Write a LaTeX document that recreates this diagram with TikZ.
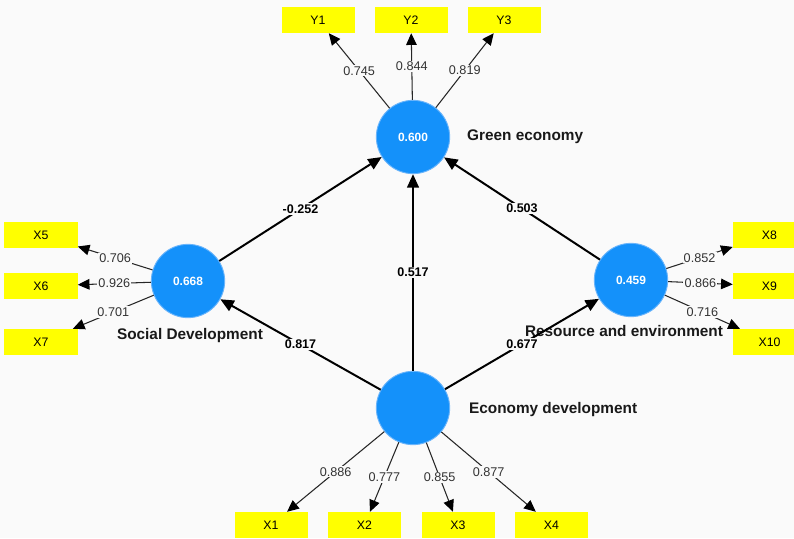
\documentclass[tikz,border=0pt]{standalone}
\usepackage{fontspec}
\setmainfont{Liberation Sans}
\usetikzlibrary{arrows.meta}
\definecolor{bgcol}{RGB}{250,250,250}
\definecolor{latentblue}{RGB}{20,145,250}
\definecolor{latentrim}{RGB}{105,180,250}
\definecolor{itemyellow}{RGB}{255,255,0}
\definecolor{loadgray}{RGB}{51,51,51}
\begin{document}
\begin{tikzpicture}[x=0.03cm,y=-0.03cm,
  latent/.style={circle,fill=latentblue,draw=latentrim,line width=0.8pt,
    minimum size=2.2cm,inner sep=0pt,text=white,
    font=\fontsize{10.2}{12}\selectfont\bfseries},
  item/.style={rectangle,fill=itemyellow,minimum width=2.19cm,
    minimum height=0.78cm,inner sep=0pt,font=\fontsize{10.5}{12}\selectfont},
  latentname/.style={font=\fontsize{13.1}{15}\selectfont\bfseries,text=black!90},
  structural/.style={line width=1.7pt,-{Triangle[length=11.5pt,width=10pt]}},
  loading/.style={draw=black!85,line width=0.9pt,
    -{Triangle[length=10pt,width=9pt,color=black]}},
  coef/.style={midway,fill=bgcol,inner sep=1pt,
    font=\fontsize{10.7}{12}\selectfont\bfseries},
  load/.style={midway,fill=bgcol,inner sep=1pt,text=loadgray,
    font=\fontsize{10.8}{12}\selectfont}]
  \useasboundingbox (0,0) rectangle (794,538);
  \clip (0,0) rectangle (794,538);
  \fill[bgcol] (0,0) rectangle (794,538);

  % latent variables
  \node[latent] (green) at (413,137) {0.600};
  \node[latent] (social) at (188,281) {0.668};
  \node[latent] (resource) at (631,280) {0.459};
  \node[latent] (economy) at (413,408) {};

  \node[latentname,anchor=west] (greenname) at (463,137) {Green economy};
  \node[latentname] (socialname) at (190,336) {Social Development};
  \node[latentname] (resourcename) at (624,331) {Resource and environment};
  \node[latentname,anchor=west] (economyname) at (465,410) {Economy development};

  % indicators
  \node[item] (y1) at (318,20) {Y1};
  \node[item] (y2) at (411,20) {Y2};
  \node[item] (y3) at (504,20) {Y3};
  \node[item] (x5) at (41,235) {X5};
  \node[item] (x6) at (41,286) {X6};
  \node[item] (x7) at (41,342) {X7};
  \node[item] (x8) at (769.5,235) {X8};
  \node[item] (x9) at (769.5,286) {X9};
  \node[item] (x10) at (769.5,342) {X10};
  \node[item] (x1) at (271,525) {X1};
  \node[item] (x2) at (364.5,525) {X2};
  \node[item] (x3) at (458,525) {X3};
  \node[item] (x4) at (551.5,525) {X4};

  % inner model
  \draw[structural] (social) -- node[coef] {-0.252} (green);
  \draw[structural] (resource) -- node[coef] {0.503} (green);
  \draw[structural] (economy) -- node[coef] {0.517} (green);
  \draw[structural] (economy) -- node[coef] {0.817} (social);
  \draw[structural] (economy) -- node[coef] {0.677} (resource);

  % outer model
  \draw[loading] (green) -- node[load] {0.745} (y1);
  \draw[loading] (green) -- node[load] {0.844} (y2);
  \draw[loading] (green) -- node[load] {0.819} (y3);
  \draw[loading] (social) -- node[load] {0.706} (x5);
  \draw[loading] (social) -- node[load] {0.926} (x6);
  \draw[loading] (social) -- node[load] {0.701} (x7);
  \draw[loading] (resource) -- node[load] {0.852} (x8);
  \draw[loading] (resource) -- node[load] {0.866} (x9);
  \draw[loading] (resource) -- node[load] {0.716} (x10);
  \draw[loading] (economy) -- node[load] {0.886} (x1);
  \draw[loading] (economy) -- node[load] {0.777} (x2);
  \draw[loading] (economy) -- node[load] {0.855} (x3);
  \draw[loading] (economy) -- node[load] {0.877} (x4);
\end{tikzpicture}
\end{document}
